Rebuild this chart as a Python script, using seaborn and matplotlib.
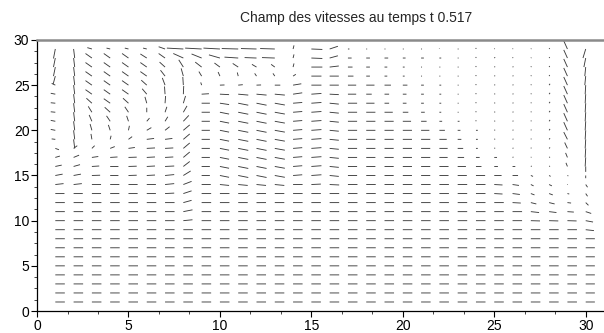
import numpy as np
import matplotlib
matplotlib.use("Agg")
import matplotlib.pyplot as plt
import seaborn as sns

# grid of the field
x_pos = list(range(1, 31))
y_pos = list(range(1, 30))

# horizontal velocity (hundredths), rows from y=29 (top) down to y=1
U_ROWS = [
    [-10, 6, -25, -20, -20, -20, -35, -90, -90, -90, -90, -85, -80, 5, 60, 45, 8, 5, 5, 5, 5, 0, 5, 0, 3, 3, 3, 3, -20, -15],
    [-10, 6, -35, -35, -35, -35, -35, -55, -55, -60, -75, -65, -70, 5, 60, 45, 20, 20, 20, 15, 15, 10, 5, 0, 5, 3, 3, 3, -20, -10],
    [-10, 6, -35, -35, -35, -35, -30, -25, -35, -30, -30, -25, -20, 5, 60, 50, 25, 20, 15, 10, 5, 5, 5, 0, 5, 5, 3, 3, -20, -5],
    [-12, 6, -35, -35, -35, -35, -25, -12, -15, -10, -5, -10, -10, 15, 55, 50, 30, 20, 15, 10, 5, 5, 5, 0, 5, 5, 3, 3, -20, -5],
    [-20, 6, -35, -35, -35, -30, -15, -3, -5, 25, 25, 25, 30, 45, 55, 50, 45, 45, 35, 25, 15, 10, 5, 0, 5, 5, 3, 5, -20, -3],
    [-25, 6, -35, -35, -35, -25, -3, 2, 40, 50, 55, 55, 55, 50, 55, 50, 45, 30, 25, 20, 15, 10, 5, 0, 5, 5, 3, 5, -20, -3],
    [-25, 6, -30, -35, -30, -10, 3, 12, 45, 50, 55, 55, 55, 50, 55, 50, 50, 45, 25, 20, 15, 10, 5, 0, 5, 5, 3, 5, -20, -3],
    [-25, 6, -20, -30, -20, 0, 10, 20, 45, 50, 55, 55, 55, 50, 55, 50, 50, 50, 45, 30, 20, 10, 5, 0, 5, 5, 3, 5, -20, -3],
    [-25, 6, -15, -20, -10, 15, 15, 30, 45, 50, 55, 55, 55, 50, 55, 50, 50, 50, 50, 45, 30, 15, 10, 0, 5, 5, 3, 5, -20, -3],
    [-25, 6, -10, -10, 5, 25, 25, 35, 45, 50, 55, 55, 55, 50, 55, 50, 50, 50, 50, 50, 45, 30, 15, 10, 5, 5, 3, 5, -20, -3],
    [-20, 6, -5, 5, 20, 40, 40, 35, 45, 50, 55, 55, 55, 50, 55, 50, 50, 50, 50, 50, 50, 40, 20, 10, 5, 5, 3, 5, -20, -3],
    [20, 20, 15, 25, 35, 45, 45, 35, 45, 50, 55, 55, 55, 50, 55, 50, 50, 50, 50, 50, 50, 45, 30, 10, 5, 5, 3, 5, -15, -3],
    [25, 30, 35, 40, 45, 45, 45, 35, 45, 50, 55, 55, 55, 50, 55, 50, 50, 50, 50, 50, 50, 45, 35, 20, 15, 5, 3, 5, -10, -3],
    [35, 35, 40, 45, 45, 45, 50, 35, 45, 50, 55, 55, 55, 50, 55, 50, 50, 50, 50, 50, 50, 50, 45, 30, 20, 15, 5, 5, -8, 0],
    [40, 40, 45, 45, 45, 45, 50, 40, 45, 50, 55, 55, 55, 50, 55, 50, 50, 50, 50, 50, 50, 50, 50, 50, 40, 30, 12, 8, 5, 0],
    [45, 45, 50, 50, 50, 50, 50, 45, 50, 50, 52, 52, 52, 52, 52, 52, 52, 52, 52, 52, 52, 52, 52, 52, 45, 35, 15, 15, 3, 10],
    [50, 50, 50, 50, 50, 50, 50, 45, 52, 52, 52, 52, 52, 52, 52, 52, 52, 52, 52, 52, 52, 52, 52, 52, 45, 40, 20, 20, 10, 10],
    [52, 52, 52, 52, 52, 52, 52, 45, 52, 52, 52, 52, 52, 52, 52, 52, 52, 52, 52, 52, 52, 52, 52, 52, 52, 45, 30, 30, 20, 15],
    [52, 52, 52, 52, 52, 52, 52, 50, 52, 52, 52, 52, 52, 52, 52, 52, 52, 52, 52, 52, 52, 52, 52, 52, 52, 52, 45, 40, 35, 30],
    [52, 52, 52, 52, 52, 52, 52, 50, 52, 52, 52, 52, 52, 52, 52, 52, 52, 52, 52, 52, 52, 52, 52, 52, 52, 52, 50, 50, 50, 40],
    [52, 52, 52, 52, 52, 52, 52, 52, 52, 52, 52, 52, 52, 52, 52, 52, 52, 52, 52, 52, 52, 52, 52, 52, 52, 52, 52, 52, 52, 45],
    [52, 52, 52, 52, 52, 52, 52, 52, 52, 52, 52, 52, 52, 52, 52, 52, 52, 52, 52, 52, 52, 52, 52, 52, 52, 52, 52, 52, 52, 50],
    [52, 52, 52, 52, 52, 52, 52, 52, 52, 52, 52, 52, 52, 52, 52, 52, 52, 52, 52, 52, 52, 52, 52, 52, 52, 52, 52, 52, 52, 50],
    [52, 52, 52, 52, 52, 52, 52, 52, 52, 52, 52, 52, 52, 52, 52, 52, 52, 52, 52, 52, 52, 52, 52, 52, 52, 52, 52, 52, 52, 50],
    [52, 52, 52, 52, 52, 52, 52, 52, 52, 52, 52, 52, 52, 52, 52, 52, 52, 52, 52, 52, 52, 52, 52, 52, 52, 52, 52, 52, 52, 50],
    [52, 52, 52, 52, 52, 52, 52, 52, 52, 52, 52, 52, 52, 52, 52, 52, 52, 52, 52, 52, 52, 52, 52, 52, 52, 52, 52, 52, 52, 50],
    [52, 52, 52, 52, 52, 52, 52, 52, 52, 52, 52, 52, 52, 52, 52, 52, 52, 52, 52, 52, 52, 52, 52, 52, 52, 52, 52, 52, 52, 50],
    [52, 52, 52, 52, 52, 52, 52, 52, 52, 52, 52, 52, 52, 52, 52, 52, 52, 52, 52, 52, 52, 52, 52, 52, 52, 52, 52, 52, 52, 50],
    [52, 52, 52, 52, 52, 52, 52, 52, 52, 52, 52, 52, 52, 52, 52, 52, 52, 52, 52, 52, 52, 52, 52, 52, 52, 52, 52, 52, 52, 50],
]

# vertical velocity (hundredths), same layout
V_ROWS = [
    [-105, -100, 15, 10, 10, 10, 25, 10, 10, 10, 5, 5, 5, 40, -5, 30, 0, 0, 0, 0, 0, 5, 0, 12, 5, 5, 5, 10, 90, -100],
    [-100, -100, 50, 50, 50, 45, 50, 50, 45, 35, 10, 5, 5, 40, -5, 25, 0, 0, 0, 0, 0, 0, 0, 12, 8, 8, 5, 10, 90, -100],
    [-100, -100, 50, 50, 50, 50, 55, 80, 55, 45, 40, 30, 30, 40, 0, 12, 0, 0, 0, 0, 0, 0, 0, 12, 5, 5, 8, 12, 90, -100],
    [-90, -100, 50, 50, 50, 50, 65, 85, 50, 45, 40, 30, 30, 20, 0, 0, 0, 0, 0, 0, 0, 0, 0, 12, 5, 5, 8, 12, 90, -100],
    [20, -100, 50, 50, 50, 55, 80, 90, 30, 2, 5, 2, 0, 15, 0, 0, 0, 0, 0, 0, 0, 0, 0, 12, 5, 5, 8, 15, 90, -100],
    [10, -100, 50, 50, 50, 60, 85, 90, 5, -5, -10, -10, -10, 15, 8, -5, 0, 0, 0, 0, 0, 0, 0, 12, 5, 5, 8, 15, 90, -100],
    [5, -100, 55, 50, 55, 70, 80, 80, 0, -15, -22, -22, -20, 8, 8, -10, 0, 0, 0, 0, 0, 0, 0, 12, 5, 5, 8, 15, 90, -100],
    [5, -100, 65, 55, 60, 50, 60, 70, 0, -20, -22, -22, -20, 8, 8, -10, 0, 0, 0, 0, 0, 0, 0, 12, 5, 5, 8, 15, 90, -100],
    [10, -100, 70, 60, 60, 35, 50, 65, 0, -20, -22, -22, -20, 8, 8, -10, 0, 0, 0, 0, 0, 0, 0, 12, 5, 5, 8, 15, 90, -100],
    [10, -100, 70, 60, 50, 30, 40, 60, 0, -20, -22, -22, -20, 8, 8, -10, 0, 0, 0, 0, 0, 0, 0, 0, 5, 5, 8, 15, 90, -100],
    [5, -100, 60, 40, 30, 10, 10, 60, 0, -20, -22, -22, -20, 8, 8, -10, 0, 0, 0, 0, 0, 0, 0, 0, 5, 5, 8, 12, 80, -100],
    [-15, 30, 30, 20, 10, 5, 5, 60, 0, -20, -22, -22, -20, 8, 8, -10, 0, 0, 0, 0, 0, 0, 0, 0, 5, 5, 8, 10, 65, -100],
    [15, 25, 10, 5, 3, 5, 5, 60, 0, -20, -22, -22, -20, 8, 8, -10, 0, 0, 0, 0, 0, 0, 0, 0, 0, 5, 5, 5, 50, -100],
    [15, 20, 5, 0, 3, 5, 5, 55, 0, -20, -22, -22, -20, 8, 8, -10, 0, 0, 0, 0, 0, 0, 0, 0, 0, 0, 5, 5, 40, -60],
    [15, 15, 3, 0, 3, 5, 10, 50, 0, -20, -22, -22, -20, 8, 8, -10, 0, 0, 0, 0, 0, 0, 0, 0, 0, 0, -10, -10, -5, -30],
    [10, 10, 0, 0, 0, 0, 10, 35, 0, -10, -10, -10, -10, 0, 5, -5, 0, 0, 0, 0, 0, 0, 0, 0, -5, -10, -15, -15, 0, -30],
    [0, 0, 0, 0, 0, 0, 5, 30, 0, 0, 0, 0, 0, 0, 0, 0, 0, 0, 0, 0, 0, 0, 0, 0, -5, -10, -15, -15, -5, -30],
    [0, 0, 0, 0, 0, 0, 0, 25, 0, 0, 0, 0, 0, 0, 0, 0, 0, 0, 0, 0, 0, 0, 0, 0, 0, -5, -15, -15, -5, -30],
    [0, 0, 0, 0, 0, 0, 0, 20, 0, 0, 0, 0, 0, 0, 0, 0, 0, 0, 0, 0, 0, 0, 0, 0, 0, 0, -10, -10, -5, -20],
    [0, 0, 0, 0, 0, 0, 0, 10, 0, 0, 0, 0, 0, 0, 0, 0, 0, 0, 0, 0, 0, 0, 0, 0, 0, 0, -3, -3, -3, -15],
    [0, 0, 0, 0, 0, 0, 0, 0, 0, 0, 0, 0, 0, 0, 0, 0, 0, 0, 0, 0, 0, 0, 0, 0, 0, 0, 0, 0, 0, -10],
    [0, 0, 0, 0, 0, 0, 0, 0, 0, 0, 0, 0, 0, 0, 0, 0, 0, 0, 0, 0, 0, 0, 0, 0, 0, 0, 0, 0, 0, 0],
    [0, 0, 0, 0, 0, 0, 0, 0, 0, 0, 0, 0, 0, 0, 0, 0, 0, 0, 0, 0, 0, 0, 0, 0, 0, 0, 0, 0, 0, 0],
    [0, 0, 0, 0, 0, 0, 0, 0, 0, 0, 0, 0, 0, 0, 0, 0, 0, 0, 0, 0, 0, 0, 0, 0, 0, 0, 0, 0, 0, 0],
    [0, 0, 0, 0, 0, 0, 0, 0, 0, 0, 0, 0, 0, 0, 0, 0, 0, 0, 0, 0, 0, 0, 0, 0, 0, 0, 0, 0, 0, 0],
    [0, 0, 0, 0, 0, 0, 0, 0, 0, 0, 0, 0, 0, 0, 0, 0, 0, 0, 0, 0, 0, 0, 0, 0, 0, 0, 0, 0, 0, 0],
    [0, 0, 0, 0, 0, 0, 0, 0, 0, 0, 0, 0, 0, 0, 0, 0, 0, 0, 0, 0, 0, 0, 0, 0, 0, 0, 0, 0, 0, 0],
    [0, 0, 0, 0, 0, 0, 0, 0, 0, 0, 0, 0, 0, 0, 0, 0, 0, 0, 0, 0, 0, 0, 0, 0, 0, 0, 0, 0, 0, 0],
    [0, 0, 0, 0, 0, 0, 0, 0, 0, 0, 0, 0, 0, 0, 0, 0, 0, 0, 0, 0, 0, 0, 0, 0, 0, 0, 0, 0, 0, 0],
]

title_text = "Champ des vitesses au temps t 0.517"
x_ticks = [0, 5, 10, 15, 20, 25, 30]
y_ticks = [0, 5, 10, 15, 20, 25, 30]

sns.set_theme(style="ticks")
plt.rcParams["font.family"] = ["Liberation Sans", "DejaVu Sans"]

fig = plt.figure(figsize=(6.04, 3.33), dpi=100)
ax = fig.add_axes([0.0613, 0.066, 0.9387, 0.814])

X, Y = np.meshgrid(np.array(x_pos, float), np.array(y_pos, float))
U = np.array(U_ROWS, float)[::-1] / 100.0
V = np.array(V_ROWS, float)[::-1] / 100.0

ax.quiver(X, Y, U, V, angles="xy", scale_units="xy", scale=1, pivot="tail",
          units="dots", width=0.9, headwidth=0, headlength=0, headaxislength=0,
          color="#3c3c3c", minlength=0.5, snap=False)

ax.set_xlim(0, 31)
ax.set_ylim(0, 30)
ax.set_xticks(x_ticks)
ax.set_yticks(y_ticks)
ax.set_xticks(np.arange(0, 31, 5 / 3), minor=True)
ax.set_yticks(np.arange(0, 30.01, 1.25), minor=True)
ax.tick_params(axis="both", which="major", direction="out", length=4, width=0.8,
               labelsize=10, colors="black", pad=1.5)
ax.tick_params(axis="both", which="minor", direction="out", length=2.5, width=0.6)

ax.spines["right"].set_visible(False)
ax.spines["top"].set_color("#8a8a8a")
ax.spines["top"].set_linewidth(1.8)
ax.spines["left"].set_color("black")
ax.spines["bottom"].set_color("black")
ax.spines["left"].set_linewidth(0.9)
ax.spines["bottom"].set_linewidth(0.9)

fig.text(0.59, 0.945, title_text, ha="center", va="center", fontsize=10)

fig.savefig("out.png", dpi=100)
